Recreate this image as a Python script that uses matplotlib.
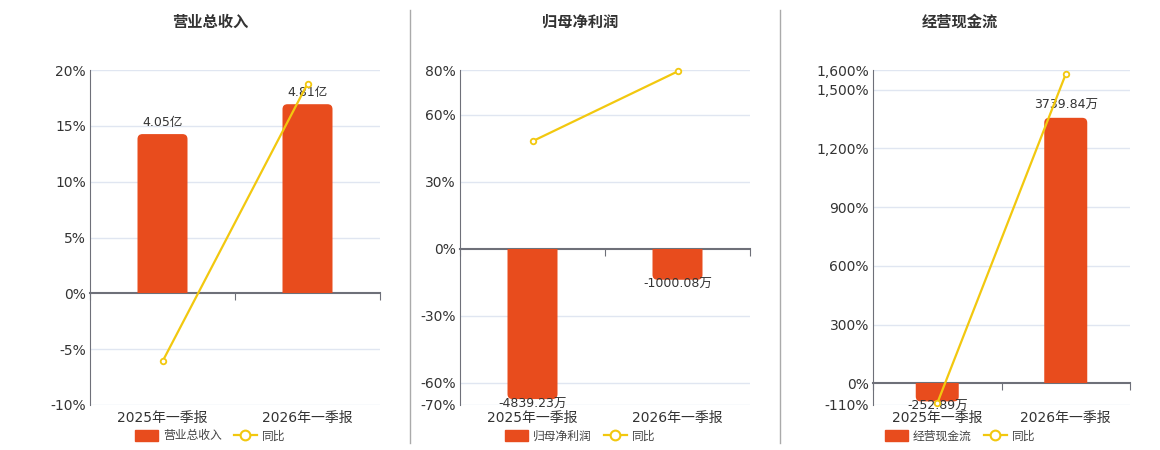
import matplotlib
matplotlib.use("Agg")
import matplotlib.pyplot as plt
from matplotlib.lines import Line2D
from matplotlib.patches import Patch, FancyBboxPatch, Rectangle
import matplotlib.transforms as mtrans

plt.rcParams['font.family'] = ['DejaVu Sans', 'Noto Sans CJK SC']

# data
periods = ["2025年一季报", "2026年一季报"]
titles = ["营业总收入", "归母净利润", "经营现金流"]
bar_values = [[4.05, 4.81], [-4839.23, -1000.08], [-252.89, 3739.84]]
bar_labels = [["4.05亿", "4.81亿"], ["-4839.23万", "-1000.08万"], ["-252.89万", "3739.84万"]]
yoy_pct = [[-6.1, 18.77], [48.1, 79.33], [-101.0, 1578.85]]

# per-panel axis settings
pct_ticks = [[-10, -5, 0, 5, 10, 15, 20],
             [-70, -60, -30, 0, 30, 60, 80],
             [-110, 0, 300, 600, 900, 1200, 1500, 1600]]
bar_top = [5.68, 5749, 4413]
ax_rects = [(90, 290), (460, 290), (873, 257)]
title_x = [210, 580, 960]
legend_x = [210, 580, 960]

BAR = '#E84C1D'
LINE = '#F2C80F'
GRID = '#E0E6F1'
AXIS = '#6E7079'
TXT = '#333333'

W, H = 1160, 450
AXH = 405 - 70
fig = plt.figure(figsize=(W / 100, H / 100), dpi=100)

for i in range(3):
    left, width = ax_rects[i]
    rect = [left / W, 1 - 405 / H, width / W, AXH / H]
    ax = fig.add_axes(rect)
    lo, hi = pct_ticks[i][0], pct_ticks[i][-1]
    ax.set_ylim(lo, hi)
    ax.set_xlim(-0.5, 1.5)
    ax.set_yticks(pct_ticks[i])
    ax.set_yticklabels([f"{t:,}%" for t in pct_ticks[i]], fontsize=10, color=TXT)
    ax.tick_params(axis='y', length=0, pad=3)
    for t in pct_ticks[i]:
        if t != 0:
            ax.axhline(t, color=GRID, lw=1, zorder=0)
    for s in ['top', 'right']:
        ax.spines[s].set_visible(False)
    ax.spines['left'].set_color(AXIS)
    ax.spines['bottom'].set_position(('data', 0))
    ax.spines['bottom'].set_color(AXIS)
    ax.spines['bottom'].set_linewidth(1.5)
    ax.set_xticks([-0.5, 0.5, 1.5])
    ax.set_xticklabels([])
    ax.tick_params(axis='x', direction='out', length=5, color=AXIS)

    trans = mtrans.blended_transform_factory(ax.transData, ax.transAxes)
    for j, p in enumerate(periods):
        ax.text(j, -0.018, p, transform=trans, ha='center', va='top',
                fontsize=10, color=TXT)

    # bar axis, zero aligned with percent axis
    axb = ax.twinx()
    bt = bar_top[i]
    blo = bt * lo / hi
    axb.set_ylim(blo, bt)
    axb.set_axis_off()
    bw = 50 / 145 if i < 2 else 43 / 128.5
    bars = axb.bar(range(2), bar_values[i], width=bw, color=BAR, zorder=2)

    # rounded far end of each bar (box runs past zero, clipped at zero)
    x_per_px = 2.0 / width
    y_per_px = (bt - blo) / AXH
    r = 5
    for b in bars:
        b.set_visible(False)
        x0, w, h = b.get_x(), b.get_width(), b.get_height()
        ext = 2 * r * y_per_px
        if h > 0:
            yb, hh = -ext, h + ext
            clip = Rectangle((x0 - w, 0), 3 * w, h + ext)
        else:
            yb, hh = h, -h + ext
            clip = Rectangle((x0 - w, h - ext), 3 * w, -h + ext)
        fb = FancyBboxPatch((x0, yb), w, hh,
                            boxstyle=f"round,pad=0,rounding_size={r * x_per_px}",
                            mutation_aspect=y_per_px / x_per_px,
                            fc=BAR, ec='none', zorder=2)
        axb.add_patch(fb)
        clip.set_transform(axb.transData)
        fb.set_clip_path(clip)

    for j, v in enumerate(bar_values[i]):
        off = 4 if v > 0 else 1
        axb.annotate(bar_labels[i][j], (j, v), xytext=(0, off),
                     textcoords='offset points', ha='center',
                     va='bottom' if v > 0 else 'top', fontsize=9, color=TXT)

    # line axis on top
    axl = ax.twinx()
    axl.set_ylim(lo, hi)
    axl.set_axis_off()
    axl.plot(range(2), yoy_pct[i], color=LINE, lw=1.6, marker='o',
             markersize=4, markerfacecolor='white', markeredgecolor=LINE,
             markeredgewidth=1.3, clip_on=False)

    fig.text(title_x[i] / W, 1 - 22 / H, titles[i], ha='center', va='center',
             fontsize=11, fontweight='bold', color=TXT)

    handles = [Patch(facecolor=BAR, edgecolor=BAR),
               Line2D([], [], color=LINE, lw=1.6, marker='o', markersize=7,
                      markerfacecolor='white', markeredgewidth=1.5)]
    fig.legend(handles, [titles[i], "同比"], loc='center',
               bbox_to_anchor=(legend_x[i] / W, 1 - 436 / H), ncol=2,
               frameon=False, fontsize=8.5, handlelength=2.0, handleheight=1.0,
               columnspacing=1.0, handletextpad=0.4, labelcolor='#444444')

for x in [410, 780]:
    fig.add_artist(Line2D([x / W, x / W], [1 - 10 / H, 1 - 443 / H],
                          color='#AAAAAA', lw=1))

fig.savefig("out.png", dpi=100)
